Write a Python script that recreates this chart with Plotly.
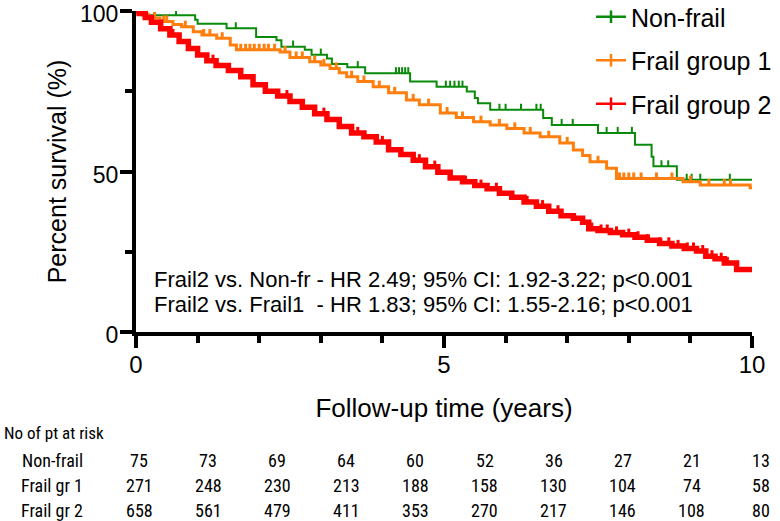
import numpy as np
import plotly.graph_objects as go

# ---------------- data ----------------
series_names = ["Non-frail", "Frail group 1", "Frail group 2"]

# Non-frail KM steps (time in years, survival %)
nf_t = [0, 0.09, 0.96, 1.0, 1.47, 1.95, 2.28, 2.36, 2.74, 2.85, 3.1, 3.18, 3.43, 3.72,
        4.45, 4.88, 5.37, 5.5, 5.55, 5.75, 6.61, 6.75, 7.5, 8.1, 8.37, 8.4, 8.78, 10.0]
nf_s = [100, 98.7, 97.3, 96.0, 94.6, 91.9, 90.9, 88.9, 87.9, 86.4, 85.2, 83.5, 82.5, 80.6,
        78.0, 76.4, 74.9, 72.9, 71.3, 69.2, 66.7, 64.5, 62.0, 58.3, 54.6, 51.6, 47.4, 47.4]
nf_cens = [0.65, 1.62, 2.55, 3.0, 3.6, 4.22, 4.27, 4.32, 4.37, 4.42, 5.03, 5.1, 5.17, 5.24,
           5.3, 5.9, 6.0, 6.25, 6.5, 6.57, 6.91, 7.09, 7.64, 7.82, 8.05, 8.53, 8.64, 8.94,
           9.02, 9.16, 9.64]

# Frail group 1
f1_t = [0, 0.1, 0.2, 0.39, 0.6, 0.74, 0.93, 1.07, 1.31, 1.53, 1.63, 2.34, 2.5, 2.82, 3.0,
        3.15, 3.3, 3.42, 3.6, 3.85, 4.1, 4.39, 4.6, 4.94, 5.2, 5.48, 5.75, 6.02, 6.3, 6.56,
        6.88, 7.1, 7.25, 7.37, 7.64, 7.8, 8.88, 9.16, 9.97, 10.0]
f1_s = [100, 99.0, 97.8, 96.7, 95.8, 95.1, 93.5, 92.5, 91.5, 89.4, 87.9, 87.2, 85.5, 84.2,
        83.2, 82.1, 80.8, 79.5, 78.0, 76.4, 74.5, 72.3, 70.8, 68.2, 66.8, 65.5, 64.5, 63.4,
        62.0, 60.8, 58.9, 56.7, 55.0, 53.0, 51.0, 47.8, 46.8, 45.8, 44.9, 44.9]
f1_cens = [0.3, 0.45, 0.5, 0.8, 1.1, 1.2, 1.4, 1.7, 1.78, 1.85, 1.92, 2.0, 2.08, 2.15, 2.25,
           2.42, 2.6, 2.7, 2.9, 3.05, 3.25, 3.5, 3.7, 3.95, 4.2, 4.5, 4.75, 5.05, 5.3, 5.6,
           5.9, 6.15, 6.4, 6.7, 7.0, 7.5, 7.85, 7.92, 8.0, 8.08, 8.2, 8.45, 8.7, 9.0, 9.3,
           9.55, 9.65]

# Frail group 2
f2_t = [0, 0.05, 0.15, 0.25, 0.4, 0.55, 0.7, 0.85, 1.0, 1.15, 1.3, 1.5, 1.7, 1.9, 2.1, 2.3,
        2.5, 2.7, 2.9, 3.1, 3.3, 3.5, 3.7, 3.9, 4.1, 4.3, 4.5, 4.7, 4.9, 5.1, 5.3, 5.5, 5.7,
        5.9, 6.1, 6.3, 6.5, 6.7, 6.9, 7.1, 7.25, 7.35, 7.5, 7.7, 7.9, 8.1, 8.3, 8.5, 8.7,
        8.9, 9.1, 9.25, 9.4, 9.55, 9.75, 10.0]
f2_s = [100, 99.2, 98, 96.5, 94.5, 92.5, 90.5, 88.3, 86.3, 84.5, 83, 81.5, 79.5, 77, 75,
        73.5, 71.8, 70, 68, 66.2, 64, 62, 60.8, 59.2, 56.8, 55.3, 53.5, 51.5, 49.8, 48, 46.8,
        45.6, 44.6, 43.2, 42, 40.5, 39.2, 37.6, 36.2, 35.4, 34.2, 32.2, 31.6, 31, 30.3, 29.5,
        28.6, 27.6, 26.8, 26, 25.2, 23.6, 22.8, 21.5, 19.5, 19.5]
f2_cens = [0.6, 1.25, 1.9, 2.45, 3.05, 3.6, 4.0, 4.3, 4.6, 4.85, 5.1, 5.35, 5.6, 5.85, 6.1,
           6.35, 6.6, 6.85, 7.4, 7.55, 7.65, 7.8, 8.0, 8.15, 8.3, 8.5, 8.65, 8.8, 8.95, 9.05,
           9.2, 9.35, 9.5, 9.6]

x_ticks = [0, 5, 10]
y_ticks = [0, 50, 100]

hr_lines = ["Frail2 vs. Non-fr - HR 2.49; 95% CI: 1.92-3.22; p<0.001",
            "Frail2 vs. Frail1  - HR 1.83; 95% CI: 1.55-2.16; p<0.001"]

risk_title = "No of pt at risk"
risk_labels = ["Non-frail", "Frail gr 1", "Frail gr 2"]
risk_nf = [75, 73, 69, 64, 60, 52, 36, 27, 21, 13]
risk_f1 = [271, 248, 230, 213, 188, 158, 130, 104, 74, 58]
risk_f2 = [658, 561, 479, 411, 353, 270, 217, 146, 108, 80]

# ---------------- style ----------------
colors = ["#0a8a0a", "#ff7f0e", "#ff0000"]
widths = [2, 3, 5.5]
tick_w = [2, 3, 3]
FONT = "Liberation Sans, Arial, sans-serif"
NARROW = "Liberation Sans Narrow, Arial Narrow, Roboto Condensed, Liberation Sans, sans-serif"

W, H = 780, 521
L, R, T, B = 136, 28, 11, 189
PW, PH = W - L - R, H - T - B


def px2paper_x(px):
    return (px - L) / PW


def px2paper_y(py):
    return (H - B - py) / PH


def step_value(times, surv, t):
    i = np.searchsorted(np.asarray(times), t, side="right") - 1
    return surv[i]


fig = go.Figure()

curves = [(nf_t, nf_s, nf_cens), (f1_t, f1_s, f1_cens), (f2_t, f2_s, f2_cens)]
for k, (tt, ss, cc) in enumerate(curves):
    fig.add_trace(go.Scatter(x=tt, y=ss, mode="lines", line=dict(color=colors[k], width=widths[k], shape="hv"),
                             showlegend=False, hoverinfo="skip"))
    cy = [step_value(tt, ss, c) for c in cc]
    fig.add_trace(go.Scatter(x=cc, y=cy, mode="markers", marker=dict(size=0.1, color=colors[k]),
                             error_y=dict(type="data", symmetric=False, array=[1.9] * len(cc),
                                          arrayminus=[0] * len(cc), width=0,
                                          thickness=tick_w[k], color=colors[k]),
                             showlegend=False, hoverinfo="skip", cliponaxis=False))

for k, name in enumerate(series_names):
    fig.add_trace(go.Scatter(x=[None], y=[None], mode="lines+markers", name=name,
                             legendgroup=name,
                             line=dict(color=colors[k], width=2.5),
                             marker=dict(symbol="line-ns", size=9, line=dict(color=colors[k], width=2.5))))

annotations = []
for i, txt in enumerate(hr_lines):
    annotations.append(dict(text=txt, xref="paper", yref="paper", x=px2paper_x(152), y=px2paper_y(279 + 25 * i),
                            xanchor="left", yanchor="middle", showarrow=False,
                            font=dict(family=FONT, size=22, color="black")))

annotations.append(dict(text=risk_title, xref="paper", yref="paper", x=px2paper_x(2), y=px2paper_y(433),
                        xanchor="left", yanchor="middle", showarrow=False,
                        font=dict(family=NARROW, size=17, color="black")))
col_x0, col_dx = 139, 69.1
row_y0, row_dy = 460, 25.3
for r, (lab, vals) in enumerate(zip(risk_labels, [risk_nf, risk_f1, risk_f2])):
    yy = px2paper_y(row_y0 + row_dy * r)
    annotations.append(dict(text=lab, xref="paper", yref="paper", x=px2paper_x(52), y=yy,
                            xanchor="center", yanchor="middle", showarrow=False,
                            font=dict(family=NARROW, size=18, color="black")))
    for c, v in enumerate(vals):
        annotations.append(dict(text=str(v), xref="paper", yref="paper", x=px2paper_x(col_x0 + col_dx * c), y=yy,
                                xanchor="center", yanchor="middle", showarrow=False,
                                font=dict(family=NARROW, size=18, color="black")))

axis_common = dict(showline=True, linecolor="black", linewidth=4, ticks="outside", ticklen=12,
                   tickwidth=4, tickcolor="black", showgrid=False, zeroline=False, automargin=False,
                   ticklabeloverflow="allow")

fig.update_layout(
    width=W, height=H, autosize=False,
    margin=dict(l=L, r=R, t=T, b=B, autoexpand=False),
    paper_bgcolor="white", plot_bgcolor="white",
    font=dict(family=FONT, color="black"),
    xaxis=dict(range=[0, 10], tickvals=x_ticks, ticktext=[str(v) for v in x_ticks],
               minor=dict(dtick=1, tick0=0, ticks="outside", ticklen=7, tickwidth=4, tickcolor="black"),
               title=dict(text="Follow-up time (years)", font=dict(family=FONT, size=26, color="black"),
                          standoff=23),
               ticklabelstandoff=-4,
               tickfont=dict(family=FONT, size=24, color="black"),
               **axis_common),
    yaxis=dict(range=[0, 100], tickvals=y_ticks, ticktext=[str(v) for v in y_ticks],
               minor=dict(dtick=25, tick0=0, ticks="outside", ticklen=7, tickwidth=4, tickcolor="black"),
               title=dict(text="Percent survival (%)", font=dict(family=FONT, size=25, color="black"),
                          standoff=7),
               ticklabelstandoff=-3, ticklabelshift=3,
               tickfont=dict(family=FONT, size=23, color="black"),
               **axis_common),
    legend=dict(x=px2paper_x(591), y=px2paper_y(-6), xanchor="left", yanchor="top",
                bgcolor="rgba(0,0,0,0)", font=dict(family=FONT, size=25, color="black"),
                traceorder="grouped", tracegroupgap=8, itemwidth=30),
    annotations=annotations,
)

fig.write_html("out.html", config={"displayModeBar": False},
               post_script="document.body.style.margin='0';document.body.style.overflow='hidden';")
